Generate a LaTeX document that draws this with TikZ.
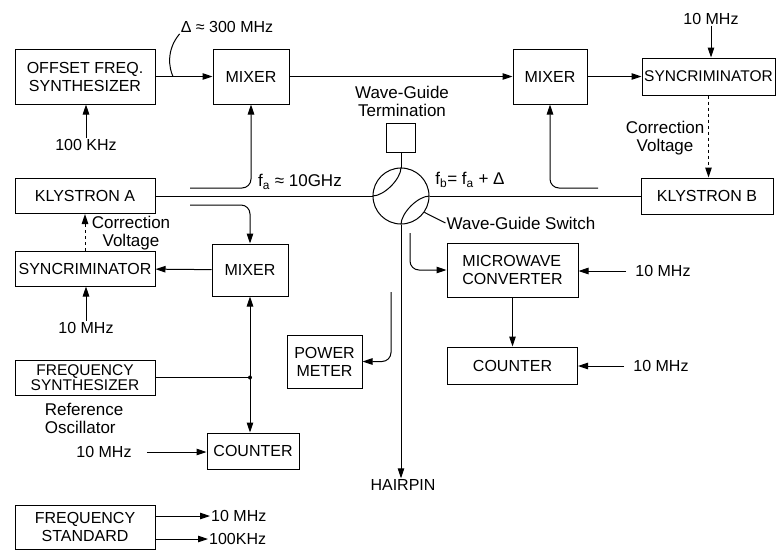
\documentclass[tikz,border=0pt]{standalone}
\usepackage{fontspec}
\setsansfont{Liberation Sans}
\usetikzlibrary{arrows.meta,positioning}

\begin{document}
\begin{tikzpicture}[
  x=1pt, y=-1pt,
  font=\sffamily\fontsize{16}{18}\selectfont,
  block/.style 2 args={
    draw,
    line width=1pt,
    minimum width=#1,
    minimum height=#2,
    align=center,
    inner sep=1pt
  },
  wire/.style={line width=1pt},
  arrow/.style={-{Triangle[length=10pt,width=6.5pt]}, line width=1pt},
  ctrl/.style={arrow, dashed},
  tap/.style={arrow, rounded corners=9pt},
  note/.style={font=\sffamily\fontsize{17}{18}\selectfont, align=center, inner sep=1pt},
  freq/.style={font=\sffamily\fontsize{16}{18}\selectfont, inner sep=1pt}
]
  \useasboundingbox (0,0) rectangle (776,550);

  \node[block={140pt}{55pt}] (osyn) at (85,76.5) {OFFSET FREQ.\\SYNTHESIZER};
  \node[block={76pt}{55pt}, right=57pt of osyn] (mixA) {MIXER};
  \node[block={74pt}{55pt}] (mixB) at (550,76.5) {MIXER};
  \node[block={133pt}{37pt}, right=54pt of mixB, font=\sffamily\fontsize{15.5}{18}\selectfont] (syncB) {SYNCRIMINATOR};
  \node[block={140pt}{35pt}] (klyA) at (85,196) {KLYSTRON A};
  \node[block={132pt}{36pt}] (klyB) at (707,196) {KLYSTRON B};
  \node[draw, line width=1pt, circle, minimum size=56pt, inner sep=0pt] (sw) at (401,196) {};
  \node[block={29pt}{29pt}, inner sep=0pt] (term) at (401,137.5) {};
  \node[block={140pt}{35pt}] (syncA) at (85,268.5) {SYNCRIMINATOR};
  \node[block={76pt}{52pt}] (mixC) at (250,270) {MIXER};
  \node[block={140pt}{35pt}, font=\sffamily\fontsize{15.5}{15}\selectfont] (fsyn) at (85,377.5) {FREQUENCY\\SYNTHESIZER};
  \node[block={92pt}{36pt}] (cntA) at (253,451) {COUNTER};
  \node[block={75pt}{53pt}] (pwr) at (324.5,361.5) {POWER\\METER};
  \node[block={131pt}{54pt}, align=left] (conv) at (512.5,270) {MICROWAVE\\CONVERTER};
  \node[block={130pt}{37pt}, below=49pt of conv] (cntB) {COUNTER};
  \node[block={140pt}{44pt}] (fstd) at (85,527) {FREQUENCY\\STANDARD};

  \node[freq] (dlt) at (227,27) {Δ ≈ 300 MHz};
  \node[freq] (k100) at (86,145) {100 KHz};
  \node[note] (fa) at (300,182) {f\textsubscript{a} ≈ 10GHz};
  \node[note] (fb) at (470,180) {f\textsubscript{b}= f\textsubscript{a} + Δ};
  \node[note] (termlbl) at (402,101) {Wave-Guide\\Termination};
  \node[note] (swlbl) at (521,223) {Wave-Guide Switch};
  \node[note] (corrA) at (131,233) {Correction\\Voltage};
  \node[note] (corrB) at (665,138) {Correction\\Voltage};
  \node[note, align=left] (refosc) at (84,418) {Reference\\Oscillator};
  \node[freq] (m10top) at (711,19) {10 MHz};
  \node[freq] (m10A) at (86,328) {10 MHz};
  \node[freq] (m10cA) at (104,452) {10 MHz};
  \node[freq] (m10cv) at (663,271) {10 MHz};
  \node[freq] (m10cB) at (661,366) {10 MHz};
  \node[freq, anchor=west] (o10) at (210,516) {10 MHz};
  \node[freq, anchor=west] (o100) at (208,539) {100KHz};
  \node[freq] (hp) at (403,485) {HAIRPIN};

  \coordinate (dtip) at (173,76.5);
  \coordinate (jn) at (250,377.5);
  \coordinate (tapA) at (190,188);
  \coordinate (tapC) at (190,205);
  \coordinate (tapB) at (598,188);
  \coordinate (tapP) at (391,292);
  \coordinate (tapV) at (410,233);

  \draw[arrow] (osyn) -- (mixA);
  \draw[arrow] (mixA) -- (mixB);
  \draw[arrow] (mixB) -- (syncB);
  \draw[arrow] (mixC) -- (syncA);
  \draw[arrow] (conv) -- (cntB);
  \draw[wire] (dlt.south west) .. controls (166,50) and (169,68) .. (dtip);

  \draw[wire] (klyA.east) -- (sw.west);
  \draw[wire] (sw.east) -- (klyB.west);
  \draw[wire] (term) -- (sw);
  \draw[wire] (sw.west) .. controls (384,196) and (401,179) .. (sw.north);
  \draw[wire] (sw.east) .. controls (418,196) and (401,213) .. (sw.south);
  \draw[arrow] (sw.south) -- (sw.south |- hp.north);
  \draw[wire] (swlbl.west) -- (sw.-35);

  \draw[ctrl] (syncA) -- (klyA);
  \draw[ctrl] (syncB.south) -- (syncB.south |- klyB.north);

  \draw[tap] (tapA) -| (mixA.south);
  \draw[tap] (tapC) -| (mixC.north);
  \draw[tap] (tapB) -| (mixB.south);
  \draw[tap] (tapP) |- (pwr.east);
  \draw[tap] (tapV) |- (conv.west);

  \draw[arrow] (k100.north) -- (k100.north |- osyn.south);
  \draw[arrow] (m10top.south) -- (m10top.south |- syncB.north);
  \draw[arrow] (m10A.north) -- (m10A.north |- syncA.south);
  \draw[arrow, shorten <=14pt] (m10cA.east) -- (m10cA.east -| cntA.west);
  \draw[arrow, shorten <=8pt] (m10cv.west) -- (m10cv.west -| conv.east);
  \draw[arrow, shorten <=8pt] (m10cB.west) -- (m10cB.west -| cntB.east);

  \draw[wire] (fsyn) -- (jn);
  \fill (jn) circle (2pt);
  \draw[arrow] (jn) -- (mixC.south);
  \draw[arrow] (jn) -- (jn |- cntA.north);

  \draw[arrow] (fstd.east |- o10.west) -- (o10.west);
  \draw[arrow] (fstd.east |- o100.west) -- (o100.west);
\end{tikzpicture}
\end{document}
